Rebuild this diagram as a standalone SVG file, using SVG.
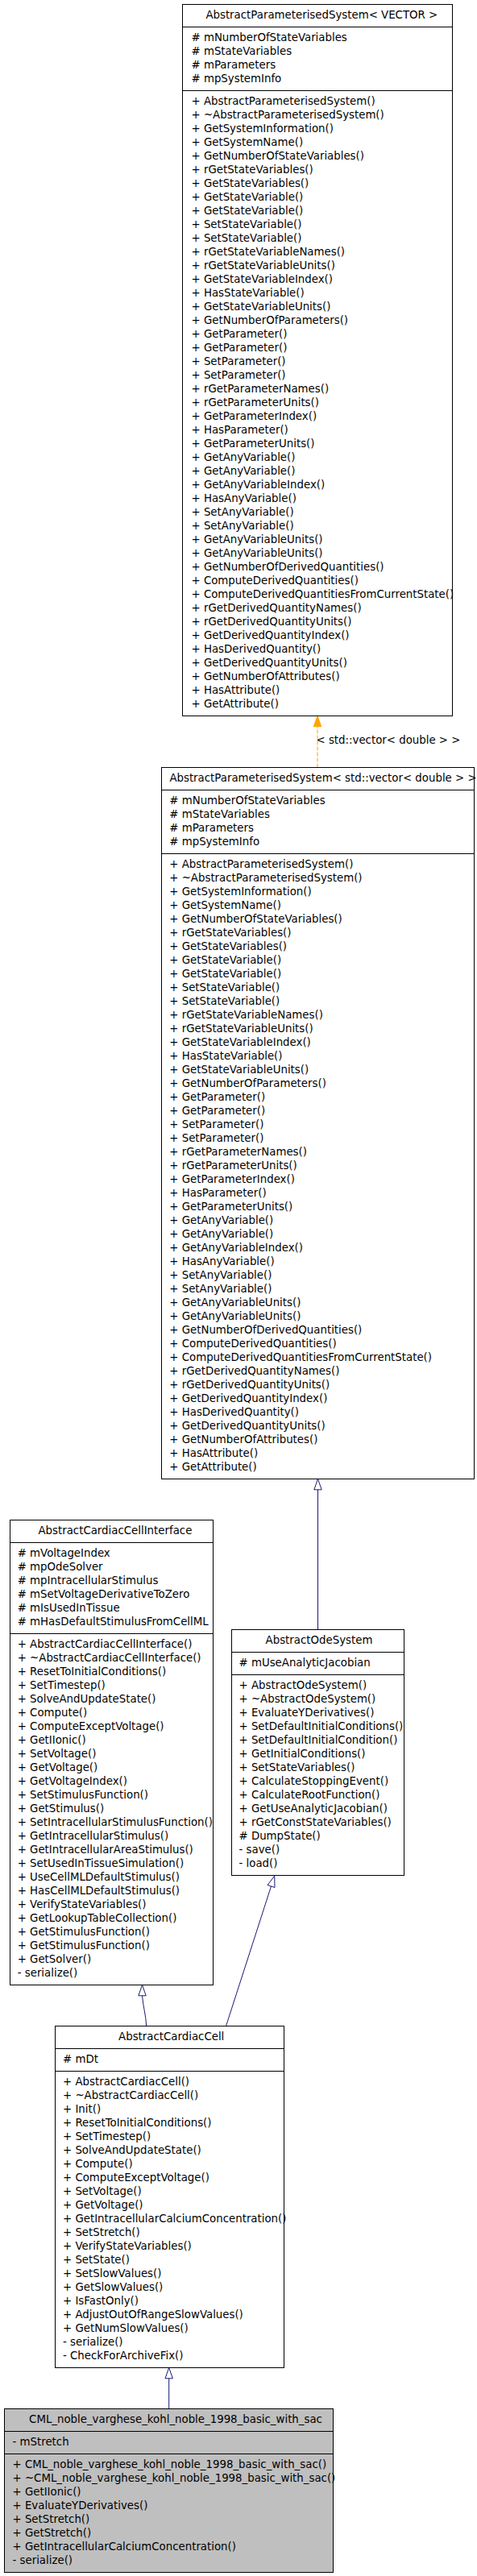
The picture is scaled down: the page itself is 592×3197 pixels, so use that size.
<svg xmlns="http://www.w3.org/2000/svg" width="592" height="3197" viewBox="0 0 592 3197">
<style>
text{font-family:"DejaVu Sans","Liberation Sans",sans-serif;font-size:13.33px;fill:#000}
.hd{text-anchor:middle}
.box{fill:#fff;stroke:#000;stroke-width:1}
.grey{fill:#bfbfbf}
.sep{stroke:#000;stroke-width:1}
.edge{fill:none;stroke:#191970;stroke-width:1}
.ah{fill:#fff;stroke:#191970;stroke-width:1}
.tedge{fill:none;stroke:#ffa500;stroke-width:1;stroke-dasharray:5,2}
.tah{fill:#ffa500;stroke:#ffa500;stroke-width:1}
</style>
<rect width="592" height="3197" fill="#fff"/>
<g id="connectors">
<path class="tedge" d="M394,952.5 V901.7"/>
<polygon class="tah" points="394,888.5 389.3,901.7 398.7,901.7"/>
<text x="392.5" y="922.5">&lt; std::vector&lt; double &gt; &gt;</text>
<path class="edge" d="M394.5,1848.8 V2022.5"/>
<polygon class="ah" points="394.5,1835.5 389.8,1848.8 399.2,1848.8"/>
<path class="edge" d="M176.5,2476.8 C177.5,2490 181,2500 181.7,2514.5"/>
<polygon class="ah" points="176.5,2463.5 171.8,2476.8 181.2,2476.8"/>
<path class="edge" d="M336.5,2341 L280.5,2514.5"/>
<polygon class="ah" points="340.7,2328.2 341,2342.5 332,2339.5"/>
<path class="edge" d="M209.7,2951.8 V2989.5"/>
<polygon class="ah" points="209.7,2938.5 205,2951.8 214.4,2951.8"/>
</g>
<g id="AbstractParameterisedSystem_VECTOR">
<rect class="box" x="226.5" y="5.5" width="335" height="883"/>
<line class="sep" x1="226.5" y1="33.5" x2="561.5" y2="33.5"/>
<line class="sep" x1="226.5" y1="112.5" x2="561.5" y2="112.5"/>
<text class="hd" x="399.3" y="22.5">AbstractParameterisedSystem&lt; VECTOR &gt;</text>
<text x="237.5" y="50.5"><tspan x="237.5" y="50.5"># mNumberOfStateVariables</tspan><tspan x="237.5" dy="17"># mStateVariables</tspan><tspan x="237.5" dy="17"># mParameters</tspan><tspan x="237.5" dy="17"># mpSystemInfo</tspan></text>
<text x="237.5" y="129.5"><tspan x="237.5" y="129.5">+ AbstractParameterisedSystem()</tspan><tspan x="237.5" dy="17">+ ~AbstractParameterisedSystem()</tspan><tspan x="237.5" dy="17">+ GetSystemInformation()</tspan><tspan x="237.5" dy="17">+ GetSystemName()</tspan><tspan x="237.5" dy="17">+ GetNumberOfStateVariables()</tspan><tspan x="237.5" dy="17">+ rGetStateVariables()</tspan><tspan x="237.5" dy="17">+ GetStateVariables()</tspan><tspan x="237.5" dy="17">+ GetStateVariable()</tspan><tspan x="237.5" dy="17">+ GetStateVariable()</tspan><tspan x="237.5" dy="17">+ SetStateVariable()</tspan><tspan x="237.5" dy="17">+ SetStateVariable()</tspan><tspan x="237.5" dy="17">+ rGetStateVariableNames()</tspan><tspan x="237.5" dy="17">+ rGetStateVariableUnits()</tspan><tspan x="237.5" dy="17">+ GetStateVariableIndex()</tspan><tspan x="237.5" dy="17">+ HasStateVariable()</tspan><tspan x="237.5" dy="17">+ GetStateVariableUnits()</tspan><tspan x="237.5" dy="17">+ GetNumberOfParameters()</tspan><tspan x="237.5" dy="17">+ GetParameter()</tspan><tspan x="237.5" dy="17">+ GetParameter()</tspan><tspan x="237.5" dy="17">+ SetParameter()</tspan><tspan x="237.5" dy="17">+ SetParameter()</tspan><tspan x="237.5" dy="17">+ rGetParameterNames()</tspan><tspan x="237.5" dy="17">+ rGetParameterUnits()</tspan><tspan x="237.5" dy="17">+ GetParameterIndex()</tspan><tspan x="237.5" dy="17">+ HasParameter()</tspan><tspan x="237.5" dy="17">+ GetParameterUnits()</tspan><tspan x="237.5" dy="17">+ GetAnyVariable()</tspan><tspan x="237.5" dy="17">+ GetAnyVariable()</tspan><tspan x="237.5" dy="17">+ GetAnyVariableIndex()</tspan><tspan x="237.5" dy="17">+ HasAnyVariable()</tspan><tspan x="237.5" dy="17">+ SetAnyVariable()</tspan><tspan x="237.5" dy="17">+ SetAnyVariable()</tspan><tspan x="237.5" dy="17">+ GetAnyVariableUnits()</tspan><tspan x="237.5" dy="17">+ GetAnyVariableUnits()</tspan><tspan x="237.5" dy="17">+ GetNumberOfDerivedQuantities()</tspan><tspan x="237.5" dy="17">+ ComputeDerivedQuantities()</tspan><tspan x="237.5" dy="17">+ ComputeDerivedQuantitiesFromCurrentState()</tspan><tspan x="237.5" dy="17">+ rGetDerivedQuantityNames()</tspan><tspan x="237.5" dy="17">+ rGetDerivedQuantityUnits()</tspan><tspan x="237.5" dy="17">+ GetDerivedQuantityIndex()</tspan><tspan x="237.5" dy="17">+ HasDerivedQuantity()</tspan><tspan x="237.5" dy="17">+ GetDerivedQuantityUnits()</tspan><tspan x="237.5" dy="17">+ GetNumberOfAttributes()</tspan><tspan x="237.5" dy="17">+ HasAttribute()</tspan><tspan x="237.5" dy="17">+ GetAttribute()</tspan></text>
</g>
<g id="AbstractParameterisedSystem_vector_double">
<rect class="box" x="200.5" y="952.5" width="388" height="883"/>
<line class="sep" x1="200.5" y1="980.5" x2="588.5" y2="980.5"/>
<line class="sep" x1="200.5" y1="1059.5" x2="588.5" y2="1059.5"/>
<text class="hd" x="401" y="969.5">AbstractParameterisedSystem&lt; std::vector&lt; double &gt; &gt;</text>
<text x="210.3" y="997.5"><tspan x="210.3" y="997.5"># mNumberOfStateVariables</tspan><tspan x="210.3" dy="17"># mStateVariables</tspan><tspan x="210.3" dy="17"># mParameters</tspan><tspan x="210.3" dy="17"># mpSystemInfo</tspan></text>
<text x="210.3" y="1076.5"><tspan x="210.3" y="1076.5">+ AbstractParameterisedSystem()</tspan><tspan x="210.3" dy="17">+ ~AbstractParameterisedSystem()</tspan><tspan x="210.3" dy="17">+ GetSystemInformation()</tspan><tspan x="210.3" dy="17">+ GetSystemName()</tspan><tspan x="210.3" dy="17">+ GetNumberOfStateVariables()</tspan><tspan x="210.3" dy="17">+ rGetStateVariables()</tspan><tspan x="210.3" dy="17">+ GetStateVariables()</tspan><tspan x="210.3" dy="17">+ GetStateVariable()</tspan><tspan x="210.3" dy="17">+ GetStateVariable()</tspan><tspan x="210.3" dy="17">+ SetStateVariable()</tspan><tspan x="210.3" dy="17">+ SetStateVariable()</tspan><tspan x="210.3" dy="17">+ rGetStateVariableNames()</tspan><tspan x="210.3" dy="17">+ rGetStateVariableUnits()</tspan><tspan x="210.3" dy="17">+ GetStateVariableIndex()</tspan><tspan x="210.3" dy="17">+ HasStateVariable()</tspan><tspan x="210.3" dy="17">+ GetStateVariableUnits()</tspan><tspan x="210.3" dy="17">+ GetNumberOfParameters()</tspan><tspan x="210.3" dy="17">+ GetParameter()</tspan><tspan x="210.3" dy="17">+ GetParameter()</tspan><tspan x="210.3" dy="17">+ SetParameter()</tspan><tspan x="210.3" dy="17">+ SetParameter()</tspan><tspan x="210.3" dy="17">+ rGetParameterNames()</tspan><tspan x="210.3" dy="17">+ rGetParameterUnits()</tspan><tspan x="210.3" dy="17">+ GetParameterIndex()</tspan><tspan x="210.3" dy="17">+ HasParameter()</tspan><tspan x="210.3" dy="17">+ GetParameterUnits()</tspan><tspan x="210.3" dy="17">+ GetAnyVariable()</tspan><tspan x="210.3" dy="17">+ GetAnyVariable()</tspan><tspan x="210.3" dy="17">+ GetAnyVariableIndex()</tspan><tspan x="210.3" dy="17">+ HasAnyVariable()</tspan><tspan x="210.3" dy="17">+ SetAnyVariable()</tspan><tspan x="210.3" dy="17">+ SetAnyVariable()</tspan><tspan x="210.3" dy="17">+ GetAnyVariableUnits()</tspan><tspan x="210.3" dy="17">+ GetAnyVariableUnits()</tspan><tspan x="210.3" dy="17">+ GetNumberOfDerivedQuantities()</tspan><tspan x="210.3" dy="17">+ ComputeDerivedQuantities()</tspan><tspan x="210.3" dy="17">+ ComputeDerivedQuantitiesFromCurrentState()</tspan><tspan x="210.3" dy="17">+ rGetDerivedQuantityNames()</tspan><tspan x="210.3" dy="17">+ rGetDerivedQuantityUnits()</tspan><tspan x="210.3" dy="17">+ GetDerivedQuantityIndex()</tspan><tspan x="210.3" dy="17">+ HasDerivedQuantity()</tspan><tspan x="210.3" dy="17">+ GetDerivedQuantityUnits()</tspan><tspan x="210.3" dy="17">+ GetNumberOfAttributes()</tspan><tspan x="210.3" dy="17">+ HasAttribute()</tspan><tspan x="210.3" dy="17">+ GetAttribute()</tspan></text>
</g>
<g id="AbstractCardiacCellInterface">
<rect class="box" x="12.5" y="1886.5" width="252" height="577"/>
<line class="sep" x1="12.5" y1="1914.5" x2="264.5" y2="1914.5"/>
<line class="sep" x1="12.5" y1="2027.5" x2="264.5" y2="2027.5"/>
<text class="hd" x="142.9" y="1903.5">AbstractCardiacCellInterface</text>
<text x="21.7" y="1931.5"><tspan x="21.7" y="1931.5"># mVoltageIndex</tspan><tspan x="21.7" dy="17"># mpOdeSolver</tspan><tspan x="21.7" dy="17"># mpIntracellularStimulus</tspan><tspan x="21.7" dy="17"># mSetVoltageDerivativeToZero</tspan><tspan x="21.7" dy="17"># mIsUsedInTissue</tspan><tspan x="21.7" dy="17"># mHasDefaultStimulusFromCellML</tspan></text>
<text x="21.7" y="2044.5"><tspan x="21.7" y="2044.5">+ AbstractCardiacCellInterface()</tspan><tspan x="21.7" dy="17">+ ~AbstractCardiacCellInterface()</tspan><tspan x="21.7" dy="17">+ ResetToInitialConditions()</tspan><tspan x="21.7" dy="17">+ SetTimestep()</tspan><tspan x="21.7" dy="17">+ SolveAndUpdateState()</tspan><tspan x="21.7" dy="17">+ Compute()</tspan><tspan x="21.7" dy="17">+ ComputeExceptVoltage()</tspan><tspan x="21.7" dy="17">+ GetIIonic()</tspan><tspan x="21.7" dy="17">+ SetVoltage()</tspan><tspan x="21.7" dy="17">+ GetVoltage()</tspan><tspan x="21.7" dy="17">+ GetVoltageIndex()</tspan><tspan x="21.7" dy="17">+ SetStimulusFunction()</tspan><tspan x="21.7" dy="17">+ GetStimulus()</tspan><tspan x="21.7" dy="17">+ SetIntracellularStimulusFunction()</tspan><tspan x="21.7" dy="17">+ GetIntracellularStimulus()</tspan><tspan x="21.7" dy="17">+ GetIntracellularAreaStimulus()</tspan><tspan x="21.7" dy="17">+ SetUsedInTissueSimulation()</tspan><tspan x="21.7" dy="17">+ UseCellMLDefaultStimulus()</tspan><tspan x="21.7" dy="17">+ HasCellMLDefaultStimulus()</tspan><tspan x="21.7" dy="17">+ VerifyStateVariables()</tspan><tspan x="21.7" dy="17">+ GetLookupTableCollection()</tspan><tspan x="21.7" dy="17">+ GetStimulusFunction()</tspan><tspan x="21.7" dy="17">+ GetStimulusFunction()</tspan><tspan x="21.7" dy="17">+ GetSolver()</tspan><tspan x="21.7" dy="17">- serialize()</tspan></text>
</g>
<g id="AbstractOdeSystem">
<rect class="box" x="287.5" y="2022.5" width="214" height="305"/>
<line class="sep" x1="287.5" y1="2050.5" x2="501.5" y2="2050.5"/>
<line class="sep" x1="287.5" y1="2078.5" x2="501.5" y2="2078.5"/>
<text class="hd" x="396" y="2039.5">AbstractOdeSystem</text>
<text x="296.5" y="2067.5"># mUseAnalyticJacobian</text>
<text x="296.5" y="2095.5"><tspan x="296.5" y="2095.5">+ AbstractOdeSystem()</tspan><tspan x="296.5" dy="17">+ ~AbstractOdeSystem()</tspan><tspan x="296.5" dy="17">+ EvaluateYDerivatives()</tspan><tspan x="296.5" dy="17">+ SetDefaultInitialConditions()</tspan><tspan x="296.5" dy="17">+ SetDefaultInitialCondition()</tspan><tspan x="296.5" dy="17">+ GetInitialConditions()</tspan><tspan x="296.5" dy="17">+ SetStateVariables()</tspan><tspan x="296.5" dy="17">+ CalculateStoppingEvent()</tspan><tspan x="296.5" dy="17">+ CalculateRootFunction()</tspan><tspan x="296.5" dy="17">+ GetUseAnalyticJacobian()</tspan><tspan x="296.5" dy="17">+ rGetConstStateVariables()</tspan><tspan x="296.5" dy="17"># DumpState()</tspan><tspan x="296.5" dy="17">- save()</tspan><tspan x="296.5" dy="17">- load()</tspan></text>
</g>
<g id="AbstractCardiacCell">
<rect class="box" x="68.5" y="2514.5" width="284" height="424"/>
<line class="sep" x1="68.5" y1="2542.5" x2="352.5" y2="2542.5"/>
<line class="sep" x1="68.5" y1="2570.5" x2="352.5" y2="2570.5"/>
<text class="hd" x="212.7" y="2531.5">AbstractCardiacCell</text>
<text x="78" y="2559.5"># mDt</text>
<text x="78" y="2587.5"><tspan x="78" y="2587.5">+ AbstractCardiacCell()</tspan><tspan x="78" dy="17">+ ~AbstractCardiacCell()</tspan><tspan x="78" dy="17">+ Init()</tspan><tspan x="78" dy="17">+ ResetToInitialConditions()</tspan><tspan x="78" dy="17">+ SetTimestep()</tspan><tspan x="78" dy="17">+ SolveAndUpdateState()</tspan><tspan x="78" dy="17">+ Compute()</tspan><tspan x="78" dy="17">+ ComputeExceptVoltage()</tspan><tspan x="78" dy="17">+ SetVoltage()</tspan><tspan x="78" dy="17">+ GetVoltage()</tspan><tspan x="78" dy="17">+ GetIntracellularCalciumConcentration()</tspan><tspan x="78" dy="17">+ SetStretch()</tspan><tspan x="78" dy="17">+ VerifyStateVariables()</tspan><tspan x="78" dy="17">+ SetState()</tspan><tspan x="78" dy="17">+ SetSlowValues()</tspan><tspan x="78" dy="17">+ GetSlowValues()</tspan><tspan x="78" dy="17">+ IsFastOnly()</tspan><tspan x="78" dy="17">+ AdjustOutOfRangeSlowValues()</tspan><tspan x="78" dy="17">+ GetNumSlowValues()</tspan><tspan x="78" dy="17">- serialize()</tspan><tspan x="78" dy="17">- CheckForArchiveFix()</tspan></text>
</g>
<g id="CML_noble_varghese_kohl_noble_1998_basic_with_sac">
<rect class="box grey" x="5.5" y="2989.5" width="408" height="203"/>
<line class="sep" x1="5.5" y1="3017.5" x2="413.5" y2="3017.5"/>
<line class="sep" x1="5.5" y1="3045.5" x2="413.5" y2="3045.5"/>
<text class="hd" x="218" y="3006.5">CML_noble_varghese_kohl_noble_1998_basic_with_sac</text>
<text x="15.5" y="3034.5">- mStretch</text>
<text x="15.5" y="3062.5"><tspan x="15.5" y="3062.5">+ CML_noble_varghese_kohl_noble_1998_basic_with_sac()</tspan><tspan x="15.5" dy="17">+ ~CML_noble_varghese_kohl_noble_1998_basic_with_sac()</tspan><tspan x="15.5" dy="17">+ GetIIonic()</tspan><tspan x="15.5" dy="17">+ EvaluateYDerivatives()</tspan><tspan x="15.5" dy="17">+ SetStretch()</tspan><tspan x="15.5" dy="17">+ GetStretch()</tspan><tspan x="15.5" dy="17">+ GetIntracellularCalciumConcentration()</tspan><tspan x="15.5" dy="17">- serialize()</tspan></text>
</g>
</svg>
